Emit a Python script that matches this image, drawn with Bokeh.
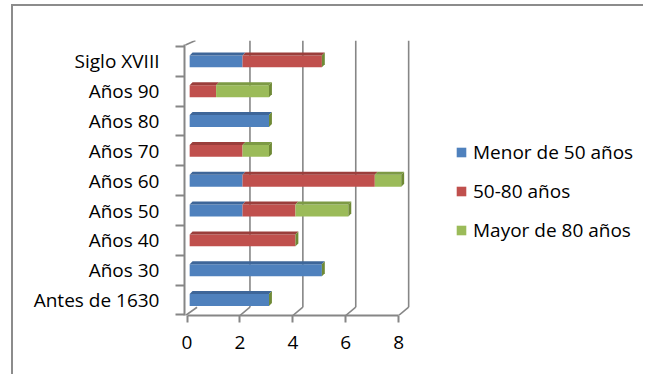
import numpy as np
from bokeh.plotting import figure
from bokeh.models import FixedTicker, Legend, LegendItem, Range1d
from bokeh.embed import file_html
from bokeh.resources import INLINE

# Data: number of items per period, split by age group
categories = ["Antes de 1630", "Años 30", "Años 40", "Años 50", "Años 60",
              "Años 70", "Años 80", "Años 90", "Siglo XVIII"]
series_names = ["Menor de 50 años", "50-80 años", "Mayor de 80 años"]
menor_50 = [3, 5, 0, 2, 2, 0, 3, 0, 2]
entre_50_80 = [0, 0, 4, 2, 5, 2, 0, 1, 3]
mayor_80 = [0, 0, 0, 2, 1, 1, 0, 2, 0]
x_ticks = [0, 2, 4, 6, 8]

# Styling
FONT = "Open Sans"
FONT_SIZE = "19px"
AXIS_GRAY = "#868686"
front_colors = ["#4F81BD", "#C0504D", "#9BBB59"]
top_colors = ["#3E6699", "#9B3E3B", "#7D9A45"]
side_color = "#6F8A36"

bar_h = 0.4          # bar thickness (category units)
shift = 0.1          # bars sit slightly behind the front axis plane
dx, dy = 0.11, 0.10  # extrusion of the bar top / end faces
wall_dx, wall_dy = 0.38, 0.26  # offset of the back wall

y_pos = np.arange(len(categories))
values = np.array([menor_50, entre_50_80, mayor_80], dtype=float)
rights = np.cumsum(values, axis=0)
lefts = rights - values

# The frame reaches the right edge so the legend can sit inside it;
# the value axis itself is bounded to 0..8.
p = figure(width=632, height=370, output_backend="svg", toolbar_location=None,
           x_range=Range1d(-0.095, 17.335), y_range=Range1d(-0.517, 8.70),
           min_border_left=171, min_border_right=0,
           min_border_top=34, min_border_bottom=61)
p.styles = {"border-left": "2px solid #8C8C8C", "border-top": "2px solid #8C8C8C",
            "margin-left": "11px", "margin-top": "4px"}
p.outline_line_color = None
p.xgrid.visible = False
p.ygrid.visible = False

# Back-wall gridlines with their floor slants
grid_x = [k for k in x_ticks if k > 0]
p.segment(x0=[k + wall_dx for k in grid_x], y0=[-0.5 + wall_dy] * len(grid_x),
          x1=[k + wall_dx for k in grid_x], y1=[8.70] * len(grid_x),
          line_color=AXIS_GRAY, line_width=1.6)
p.segment(x0=[k - 0.057 * (k == 0) for k in x_ticks], y0=[-0.517] * len(x_ticks),
          x1=[k + wall_dx for k in x_ticks], y1=[-0.5 + wall_dy] * len(x_ticks),
          line_color=AXIS_GRAY, line_width=1.6)
# slant at the top of the left wall
p.segment(x0=[-0.06], y0=[8.55], x1=[wall_dx - 0.06], y1=[8.70],
          line_color=AXIS_GRAY, line_width=1.6)

# Bars: front faces, top faces and the end face of each stack
renderers = []
for s in range(3):
    r = p.hbar(y=y_pos, left=lefts[s] + shift, right=rights[s] + shift, height=bar_h,
               fill_color=front_colors[s], line_color=None)
    renderers.append(r)
    xs, ys = [], []
    for i in range(len(categories)):
        if values[s][i] <= 0:
            continue
        l, rr = lefts[s][i] + shift, rights[s][i] + shift
        t = y_pos[i] + bar_h / 2
        xs.append([l, rr, rr + dx, l + dx])
        ys.append([t, t, t + dy, t + dy])
    p.patches(xs, ys, fill_color=top_colors[s], line_color=None)

totals = rights[-1] + shift
end_xs = [[t, t + dx, t + dx, t] for t in totals]
end_ys = [[c - bar_h / 2, c - bar_h / 2 + dy, c + bar_h / 2 + dy, c + bar_h / 2]
          for c in y_pos]
p.patches(end_xs, end_ys, fill_color=side_color, line_color=None)

# Axes
p.xaxis.ticker = FixedTicker(ticks=x_ticks, minor_ticks=[])
p.xaxis.bounds = (0, 8)
p.xaxis.axis_line_color = AXIS_GRAY
p.xaxis.axis_line_width = 2
p.xaxis.major_tick_line_color = AXIS_GRAY
p.xaxis.major_tick_line_width = 2
p.xaxis.major_tick_out = 7
p.xaxis.major_tick_in = 0
p.xaxis.major_label_standoff = 13

p.yaxis.ticker = FixedTicker(ticks=list(y_pos),
                             minor_ticks=list(np.arange(len(categories) + 1) - 0.5))
p.yaxis.major_label_overrides = {int(i): c for i, c in zip(y_pos, categories)}
p.yaxis.bounds = (-0.517, 8.55)
p.yaxis.axis_line_color = AXIS_GRAY
p.yaxis.axis_line_width = 2
p.yaxis.major_tick_line_color = None
p.yaxis.major_tick_out = 0
p.yaxis.major_tick_in = 0
p.yaxis.minor_tick_line_color = AXIS_GRAY
p.yaxis.minor_tick_line_width = 2
p.yaxis.minor_tick_out = 9
p.yaxis.minor_tick_in = 0
p.yaxis.major_label_standoff = 16

for ax in (p.xaxis, p.yaxis):
    ax.major_label_text_font = FONT
    ax.major_label_text_font_size = FONT_SIZE
    ax.major_label_text_color = "#000000"

legend = Legend(items=[LegendItem(label=n, renderers=[r]) for n, r in zip(series_names, renderers)],
                location=(271, 72), orientation="vertical",
                glyph_width=12, glyph_height=12, label_height=20, spacing=13,
                label_standoff=6, padding=0, margin=0,
                border_line_color=None, background_fill_alpha=0,
                label_text_font=FONT, label_text_font_size=FONT_SIZE,
                label_text_color="#000000")
p.add_layout(legend, "center")

open("out.html", "w").write(file_html(p, INLINE))
